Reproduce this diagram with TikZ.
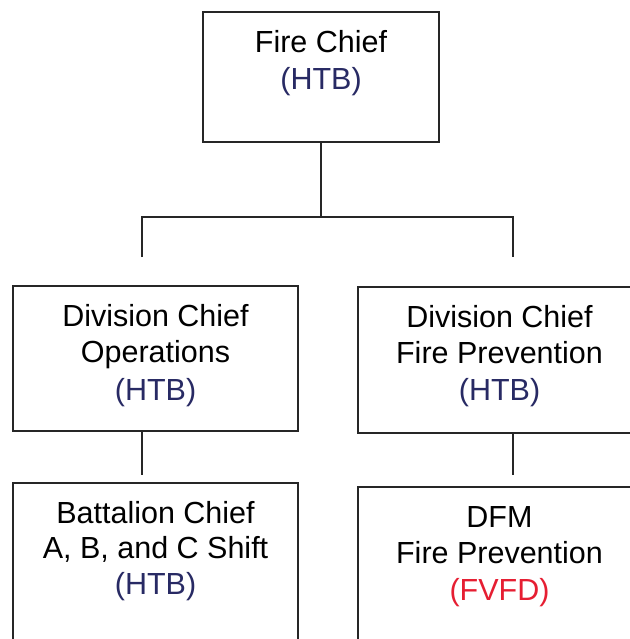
\documentclass[tikz,border=0pt]{standalone}
\usepackage{fontspec}
\setmainfont{Liberation Sans}
\definecolor{navy}{RGB}{40,42,100}
\definecolor{firered}{RGB}{230,30,50}
\begin{document}
\begin{tikzpicture}[x=1pt,y=1pt,
  box/.style={draw=black!85,line width=1.8pt,rectangle,inner sep=0pt},
  conn/.style={draw=black!85,line width=1.8pt},
  lbl/.style={anchor=base,inner sep=0pt,font=\fontsize{30.5}{37}\selectfont},
  htb/.style={lbl,text=navy},
  fvfd/.style={lbl,text=firered}]
\useasboundingbox (0,0) rectangle (629,-639);
\fill[white] (0,0) rectangle (629,-639);
% boxes
\node[box,minimum width=236,minimum height=130] (top) at (321,-77) {};
\node[box,minimum width=285,minimum height=145] (ops) at (155.5,-358.5) {};
\node[box,minimum width=285,minimum height=146] (fp) at (500.5,-360) {};
\node[box,minimum width=285,minimum height=200] (bc) at (155.5,-583) {};
\node[box,minimum width=285,minimum height=200] (dfm) at (500.5,-587) {};
% texts
\node[lbl] (t1) at (321,-53) {Fire Chief};
\node[htb] (t2) at (321,-90) {(HTB)};
\node[lbl] (o1) at (155.5,-326) {Division Chief};
\node[lbl] (o2) at (155.5,-362) {Operations};
\node[htb] (o3) at (155.5,-400) {(HTB)};
\node[lbl] (f1) at (499.5,-327) {Division Chief};
\node[lbl] (f2) at (499.5,-363) {Fire Prevention};
\node[htb] (f3) at (499.5,-400) {(HTB)};
\node[lbl] (b1) at (155.5,-523) {Battalion Chief};
\node[lbl] (b2) at (155.5,-558) {A, B, and C Shift};
\node[htb] (b3) at (155.5,-594) {(HTB)};
\node[lbl] (d1) at (499.5,-527) {DFM};
\node[lbl] (d2) at (499.5,-563) {Fire Prevention};
\node[fvfd] (d3) at (499.5,-600) {(FVFD)};
% connectors
\coordinate (j) at (321,-217);
\coordinate (c1) at (142,-257);
\coordinate (c2) at (513,-257);
\coordinate (l1) at (142,-432);
\coordinate (l2) at (142,-475);
\coordinate (r1) at (513,-434);
\coordinate (r2) at (513,-475);
\draw[conn] (top.south) -- (j);
\draw[conn] (c1) |- (j) -| (c2);
\draw[conn] (l1) -- (l2);
\draw[conn] (r1) -- (r2);
\end{tikzpicture}
\end{document}
